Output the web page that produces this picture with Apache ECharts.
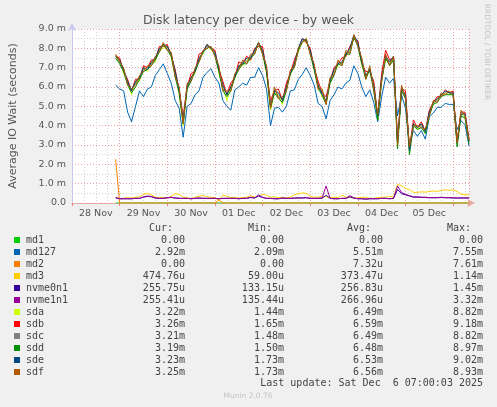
<!DOCTYPE html>
<html><head><meta charset="utf-8">
<script src="https://cdn.jsdelivr.net/npm/echarts@6/dist/echarts.min.js"></script>
<style>html,body{margin:0;padding:0;background:#f0f0f0;}#c{width:497px;height:407px;}</style>
</head><body><div id="c"></div>
<script>
// ---- data (values in milliseconds) ----
const seriesNames = ['md1','md127','md2','md3','nvme0n1','nvme1n1','sda','sdb','sdc','sdd','sde','sdf'];
const seriesColors = ['#00CC00','#0066B3','#FF8000','#FFCC00','#330099','#990099','#CCFF00','#FF0000','#808080','#008F00','#00487D','#B35A00'];
const startHour = 22;   // hours after 28 Nov 00:00 of first sample
const stepHours = 2;
const md1 = [0,0,0,0,0,0,0,0,0,0, 0,0,0,0,0,0,0,0,0,0, 0,0,0,0,0,0,0,0,0,0, 0,0,0,0,0,0,0,0,0,0, 0,0,0,0,0,0,0,0,0,0, 0,0,0,0,0,0,0,0,0,0, 0,0,0,0,0,0,0,0,0,0, 0,0,0,0,0,0,0,0,0,0, 0,0,0,0,0,0,0,0,0,0];
const md127 = [6.1,5.9,5.8,4.7,4.2,5.0,5.8,5.5,5.9,6.0, 6.6,6.9,7.2,6.7,6.2,5.3,4.9,3.4,5.0,5.15, 5.6,5.8,6.5,6.75,6.95,6.5,6.2,5.3,5.0,4.8, 5.85,6.0,6.2,6.1,6.5,6.5,7.0,6.6,5.9,4.0, 4.9,4.95,4.7,5.0,5.8,5.85,6.4,6.65,7.0,6.6, 6.1,5.15,5.0,4.35,5.3,5.6,6.0,5.9,6.2,6.35, 7.1,6.7,6.0,5.5,5.85,5.2,4.2,5.5,6.5,6.2, 6.45,4.5,5.6,4.9,3.0,3.75,3.45,3.75,3.3,4.45, 4.65,4.95,4.95,5.15,5.1,5.1,3.8,4.25,4.05,2.95];
const md2 = [2.26,0,0,0,0,0,0,0,0,0, 0,0,0,0,0,0,0,0,0,0, 0,0,0,0,0,0,0.15,0,0,0, 0,0,0,0,0,0,0,0,0,0, 0,0,0,0,0,0,0,0,0,0, 0,0,0,0,0,0,0,0,0,0, 0,0,0,0,0,0,0,0,0,0, 0,0,0,0,0,0,0,0,0,0, 0,0,0,0,0,0,0,0,0,0];
const md3 = [0.3,0.2,0.25,0.28,0.25,0.3,0.32,0.45,0.5,0.42, 0.3,0.28,0.3,0.25,0.35,0.48,0.45,0.3,0.28,0.22, 0.3,0.35,0.38,0.32,0.3,0.28,0.12,0.4,0.35,0.28, 0.3,0.25,0.28,0.3,0.38,0.3,0.35,0.45,0.4,0.3, 0.32,0.28,0.3,0.26,0.3,0.42,0.48,0.52,0.5,0.35, 0.3,0.3,0.35,0.32,0.28,0.3,0.28,0.4,0.3,0.3, 0.25,0.26,0.3,0.28,0.25,0.24,0.28,0.3,0.3,0.35, 0.3,0.95,0.9,0.75,0.7,0.55,0.55,0.58,0.56,0.6, 0.62,0.6,0.65,0.68,0.66,0.68,0.6,0.45,0.42,0.42];
const nvme0n1 = [0.26,0.22,0.22,0.22,0.22,0.24,0.24,0.3,0.34,0.32, 0.25,0.24,0.24,0.27,0.28,0.26,0.24,0.24,0.24,0.22, 0.24,0.25,0.24,0.24,0.24,0.24,0.22,0.24,0.24,0.24, 0.24,0.22,0.24,0.24,0.28,0.26,0.36,0.28,0.24,0.24, 0.22,0.22,0.25,0.24,0.24,0.25,0.26,0.26,0.27,0.24, 0.24,0.24,0.25,0.4,0.24,0.22,0.22,0.24,0.24,0.32, 0.25,0.22,0.22,0.2,0.22,0.22,0.22,0.24,0.24,0.22, 0.24,0.7,0.48,0.42,0.36,0.3,0.3,0.29,0.28,0.27, 0.27,0.27,0.28,0.27,0.27,0.26,0.26,0.26,0.26,0.26];
const nvme1n1 = [0.28,0.22,0.22,0.22,0.22,0.24,0.24,0.32,0.36,0.34, 0.26,0.24,0.24,0.28,0.3,0.26,0.24,0.24,0.24,0.22, 0.24,0.26,0.24,0.24,0.24,0.24,0.22,0.24,0.24,0.24, 0.24,0.22,0.24,0.24,0.3,0.26,0.42,0.3,0.24,0.24, 0.22,0.22,0.26,0.24,0.24,0.26,0.26,0.26,0.28,0.24, 0.24,0.24,0.26,0.88,0.24,0.22,0.22,0.24,0.24,0.38, 0.26,0.22,0.22,0.2,0.22,0.22,0.22,0.24,0.24,0.22, 0.24,0.88,0.55,0.45,0.38,0.32,0.32,0.3,0.3,0.28, 0.28,0.28,0.3,0.28,0.28,0.27,0.26,0.26,0.26,0.26];
const sda = [7.5,7.4,6.7,6.3,5.6,6.3,6.3,7.0,6.8,7.3, 7.3,8.0,8.0,8.1,7.5,6.7,5.6,4.0,5.9,6.5, 6.7,7.5,7.7,8.2,7.9,7.8,6.7,6.0,5.3,6.0, 6.4,7.1,7.1,7.4,7.4,7.9,8.1,7.9,6.7,4.8, 5.7,5.6,5.1,6.0,6.6,7.2,7.8,8.4,8.3,7.9, 6.9,6.1,5.5,5.2,6.2,6.8,7.1,7.3,7.6,7.9, 8.5,8.3,7.1,6.6,6.8,6.1,4.3,6.5,7.4,7.3, 7.4,3.1,5.8,5.6,2.9,4.1,3.8,4.1,3.6,4.7, 5.1,5.4,5.5,5.7,5.6,5.7,3.2,4.6,4.5,3.2];
const sdb = [7.6,7.5,6.8,6.4,5.8,6.4,6.4,7.1,7.0,7.4, 7.4,8.1,8.1,8.2,7.6,6.9,5.8,4.5,6.0,6.7, 6.8,7.7,7.8,8.2,8.0,7.9,6.9,6.3,5.6,6.2, 6.5,7.3,7.2,7.6,7.4,8.0,8.1,8.1,6.8,5.3, 5.8,5.9,5.3,6.2,6.7,7.4,7.9,8.5,8.3,8.0, 7.0,6.3,5.7,5.5,6.3,7.0,7.2,7.5,7.6,8.1, 8.5,8.4,7.2,6.8,6.8,6.3,4.5,6.7,7.9,7.4, 7.5,3.2,5.9,5.8,2.8,4.3,3.9,4.2,3.7,4.8, 5.2,5.5,5.5,5.85,5.7,5.8,3.2,4.7,4.7,3.3];
const sdc = [7.6,7.3,6.9,6.2,5.9,6.2,6.5,6.9,7.0,7.2, 7.5,7.9,8.2,8.0,7.7,6.6,5.9,4.3,6.1,6.4, 6.9,7.4,7.8,8.1,8.0,7.7,7.0,5.9,5.7,5.9, 6.6,7.0,7.3,7.3,7.6,7.8,8.2,7.8,7.0,5.0, 5.9,5.5,5.4,5.9,6.8,7.1,7.9,8.4,8.4,7.8, 7.1,6.0,5.8,5.2,6.4,6.7,7.3,7.2,7.8,7.8, 8.6,8.2,7.4,6.5,7.0,6.0,4.5,6.4,7.6,7.2, 7.5,3.1,6.0,5.5,2.8,4.1,3.9,4.0,3.7,4.6, 5.2,5.3,5.6,5.7,5.7,5.6,3.1,4.7,4.6,3.2];
const sdd = [7.5,7.2,6.8,6.1,5.7,6.0,6.4,6.8,6.9,7.1, 7.4,7.8,8.2,7.9,7.6,6.5,5.7,4.1,5.9,6.3, 6.8,7.3,7.8,8.0,8.1,7.6,6.8,5.8,5.5,5.8, 6.5,6.9,7.2,7.2,7.5,7.7,8.3,7.7,6.8,4.9, 5.7,5.4,5.2,5.8,6.7,7.0,7.9,8.3,8.5,7.7, 6.9,5.9,5.6,5.1,6.2,6.6,7.2,7.1,7.7,7.7, 8.6,8.1,7.2,6.4,6.9,5.8,4.3,6.3,7.5,7.1, 7.4,2.8,5.8,5.4,2.5,4.0,3.8,3.9,3.6,4.5, 5.1,5.2,5.5,5.6,5.6,5.6,2.9,4.5,4.4,3.1];
const sde = [7.6,7.4,6.9,6.3,5.8,6.3,6.5,7.0,6.9,7.3, 7.5,8.0,8.2,8.1,7.7,6.8,5.8,4.2,6.0,6.5, 6.8,7.5,7.8,8.2,8.0,7.8,6.9,6.1,5.6,6.0, 6.5,7.1,7.2,7.5,7.5,7.9,8.3,7.9,6.9,5.0, 5.8,5.7,5.3,6.0,6.7,7.2,8.0,8.5,8.4,7.9, 7.0,6.1,5.6,5.3,6.3,6.9,7.2,7.3,7.7,8.0, 8.7,8.3,7.3,6.6,6.9,6.1,4.5,6.5,7.6,7.3, 7.6,3.1,5.9,5.6,2.7,4.1,3.9,4.1,3.7,4.7, 5.2,5.4,5.6,5.8,5.7,5.7,3.1,4.6,4.6,3.2];
const sdf = [7.7,7.3,7.0,6.1,5.9,6.1,6.6,6.8,7.1,7.1, 7.6,7.8,8.3,7.9,7.8,6.5,6.0,4.1,6.2,6.3, 7.0,7.3,7.9,8.0,8.1,7.6,7.1,5.8,5.8,5.8, 6.7,6.9,7.4,7.2,7.7,7.7,8.3,7.7,7.1,4.9, 6.0,5.4,5.5,5.8,6.9,7.0,8.0,8.3,8.5,7.7, 7.2,5.9,5.9,5.1,6.5,6.6,7.4,7.1,7.9,7.7, 8.7,8.1,7.5,6.4,7.1,5.9,4.6,6.3,7.7,7.1, 7.6,3.0,6.1,5.4,2.9,4.0,4.0,3.9,3.8,4.5, 5.3,5.2,5.7,5.6,5.8,5.6,3.1,4.8,4.5,3.25];
const dayLabels = ['28 Nov','29 Nov','30 Nov','01 Dec','02 Dec','03 Dec','04 Dec','05 Dec'];
const curVals = ['0.00','2.92m','0.00','474.76u','255.75u','255.41u','3.22m','3.26m','3.21m','3.19m','3.23m','3.25m'];
const minVals = ['0.00','2.09m','0.00','59.00u','133.15u','135.44u','1.44m','1.65m','1.48m','1.50m','1.73m','1.73m'];
const avgVals = ['0.00','5.51m','7.32u','373.47u','256.83u','266.96u','6.49m','6.59m','6.49m','6.48m','6.53m','6.56m'];
const maxVals = ['0.00','7.55m','7.61m','1.14m','1.45m','3.32m','8.82m','9.18m','8.82m','8.97m','9.02m','8.93m'];
const allData = [md1,md127,md2,md3,nvme0n1,nvme1n1,sda,sdb,sdc,sdd,sde,sdf];

// ---- chart ----
const chart = echarts.init(document.getElementById('c'));
const toPairs = arr => arr.map((v,i) => [startHour + stepHours*i, v]);
const sans = 'DejaVu Sans';
const mono = 'DejaVu Sans Mono';

const series = allData.map((arr, k) => ({
  name: seriesNames[k], type: 'line', xAxisIndex: 0, yAxisIndex: 0,
  data: toPairs(arr), showSymbol: false, symbol: 'none',
  lineStyle: { color: seriesColors[k], width: 1 }, itemStyle: { color: seriesColors[k] },
  animation: false, silent: true, z: 2 + k * 0.01
}));

const graphics = [];
graphics.push({ type:'text', x:487, y:52, rotation:-Math.PI/2,
  style:{ text:'RRDTOOL / TOBI OETIKER', font:'7.5px "'+sans+'"', fill:'#c4c4c4', align:'center', verticalAlign:'middle' }});
const colRight = [185, 284, 383, 483];
const headers = ['Cur:','Min:','Avg:','Max:'];
headers.forEach((h,i) => graphics.push({ type:'text', x: colRight[i]-12, y: 228,
  style:{ text:h, font:'10px "'+mono+'"', fill:'#444', align:'right', verticalAlign:'middle' }}));
const cols = [curVals, minVals, avgVals, maxVals];
seriesNames.forEach((n, r) => {
  const y = 240 + r*12;
  graphics.push({ type:'rect', shape:{ x:14, y:y-3, width:6, height:6 }, style:{ fill: seriesColors[r] }});
  graphics.push({ type:'text', x:26, y:y, style:{ text:n, font:'10px "'+mono+'"', fill:'#444', align:'left', verticalAlign:'middle' }});
  cols.forEach((c, ci) => graphics.push({ type:'text', x: colRight[ci], y:y,
    style:{ text:c[r], font:'10px "'+mono+'"', fill:'#444', align:'right', verticalAlign:'middle' }}));
});
graphics.push({ type:'text', x:483, y:383, style:{ text:'Last update: Sat Dec  6 07:00:03 2025', font:'10px "'+mono+'"', fill:'#444', align:'right', verticalAlign:'middle' }});
graphics.push({ type:'text', x:248, y:396, style:{ text:'Munin 2.0.76', font:'7.5px "'+sans+'"', fill:'#c4c4c4', align:'center', verticalAlign:'middle' }});

chart.setOption({
  backgroundColor: '#f0f0f0',
  animation: false,
  title: { text:'Disk latency per device - by week', left:'center', top:9,
    textStyle:{ fontFamily:sans, fontSize:12.5, fontWeight:'normal', color:'#555' }},
  grid: { left:67, right:28, top:29, bottom:204, show:true, backgroundColor:'#ffffff', borderWidth:0 },
  xAxis: [
    { type:'value', min:0, max:200, interval:24, position:'bottom',
      axisLine:{ show:true, lineStyle:{ color:'#e8a8a0', width:1 }, symbol:['none','arrow'], symbolSize:[6,8], symbolOffset:[0,6] },
      axisTick:{ show:true, length:3, lineStyle:{ color:'#f08080' } },
      axisLabel:{ show:false },
      splitLine:{ show:true, lineStyle:{ color:'#f0a0a0', type:[1,2], width:1 } },
      minorTick:{ show:false, splitNumber:4 },
      minorSplitLine:{ show:true, lineStyle:{ color:'#d0d0d0', type:[1,2], width:1 } } },
    { type:'value', min:0, max:200, interval:12, position:'bottom',
      axisLine:{ show:false }, axisTick:{ show:false }, splitLine:{ show:false },
      axisLabel:{ show:true, margin:6, fontFamily:sans, fontSize:9.5, color:'#555',
        formatter: v => (v % 24 === 12) ? (dayLabels[(v-12)/24] || '') : '' } }
  ],
  yAxis: { type:'value', min:0, max:9, interval:1,
    name:'Average IO Wait (seconds)', nameLocation:'middle', nameGap:53,
    nameTextStyle:{ fontFamily:sans, fontSize:11, color:'#555' },
    axisLine:{ show:true, lineStyle:{ color:'#c8c8f0', width:1 }, symbol:['none','arrow'], symbolSize:[6,8], symbolOffset:[0,6] },
    axisTick:{ show:false },
    axisLabel:{ margin:6, fontFamily:sans, fontSize:9.5, color:'#555',
      formatter: v => v === 0 ? '0.0' : v.toFixed(1) + ' m' },
    splitLine:{ show:true, lineStyle:{ color:'#f0a0a0', type:[1,2], width:1 } },
    minorTick:{ show:false, splitNumber:2 },
    minorSplitLine:{ show:true, lineStyle:{ color:'#d0d0d0', type:[1,2], width:1 } } },
  series: series,
  graphic: graphics
});
</script></body></html>
